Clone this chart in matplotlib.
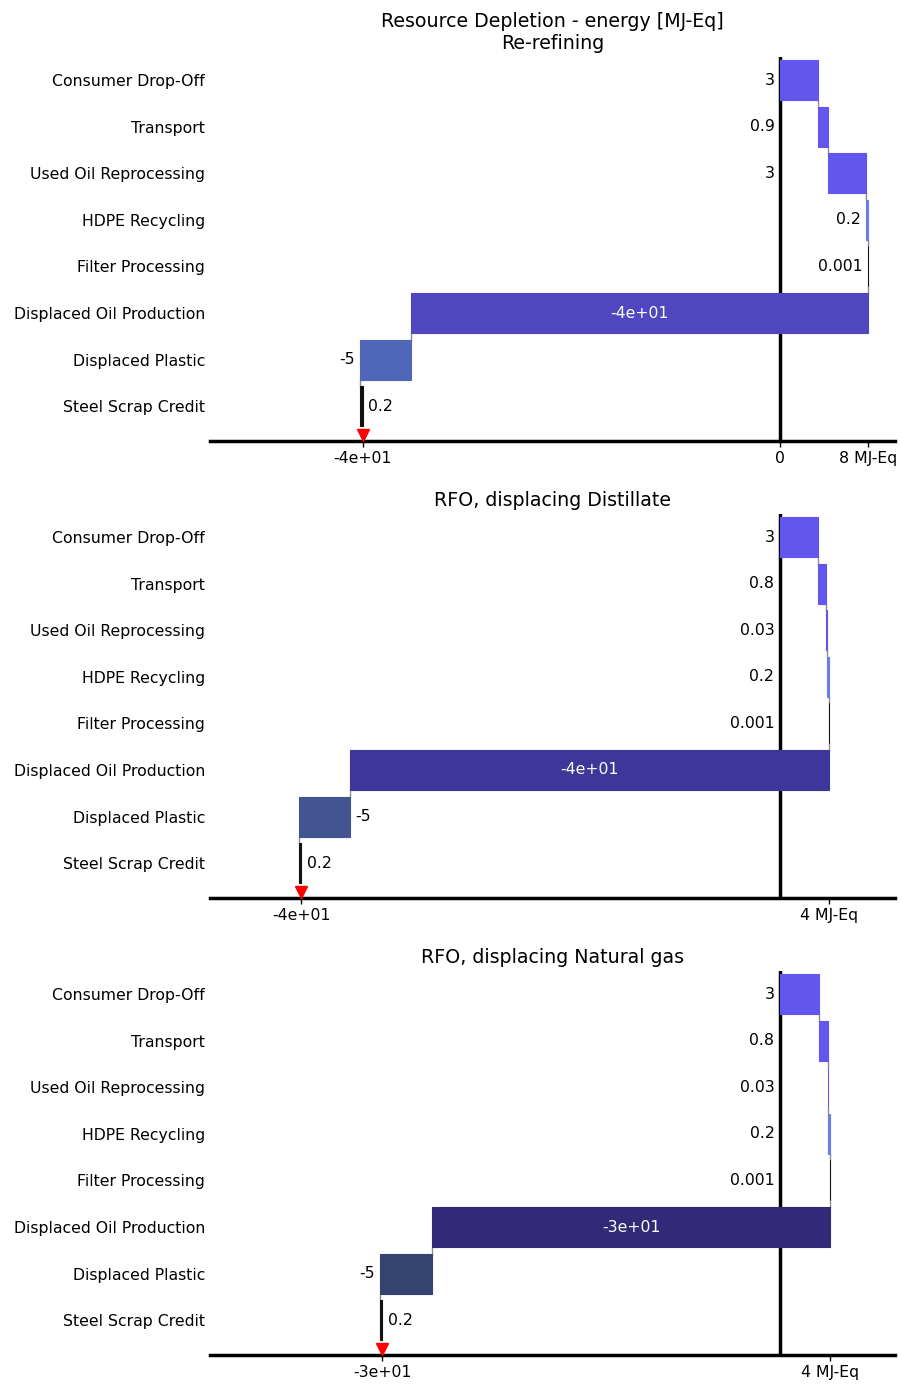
import numpy as np
import matplotlib
matplotlib.use("Agg")
from matplotlib import pyplot as plt

categories = ["Consumer Drop-Off", "Transport", "Used Oil Reprocessing", "HDPE Recycling",
              "Filter Processing", "Displaced Oil Production", "Displaced Plastic",
              "Steel Scrap Credit"]

# MJ-Eq per scenario, same order as categories
rerefining = [3.4, 0.94, 3.4, 0.2, 0.001, -41.1, -4.6, 0.2]
distillate = [3.4, 0.8, 0.03, 0.2, 0.001, -43.3, -4.6, 0.2]
natural_gas = [3.4, 0.8, 0.03, 0.2, 0.001, -34.96, -4.56, 0.2]

titles = ["Resource Depletion - energy [MJ-Eq]\nRe-refining",
          "RFO, displacing Distillate",
          "RFO, displacing Natural gas"]
unit = "MJ-Eq"

# colours
proc_color = "#6356ee"
hdpe_color = "#6a7ee8"
dark_color = "#111111"
oil_colors = ["#5046bf", "#3f3699", "#322a77"]
plastic_colors = ["#5067b9", "#435590", "#354370"]
xlims = [(-51.28, 10.35), (-51.5, 10.4), (-50.0, 10.09)]

FS = 11.35


def waterfall(ax, vals, title, xlim, oil_c, plastic_c):
    vals = np.array(vals)
    ends = np.cumsum(vals)
    starts = ends - vals
    y = np.arange(len(vals))
    cols = [proc_color, proc_color, proc_color, hdpe_color, dark_color,
            oil_c, plastic_c, dark_color]

    ax.axvline(0, color="black", lw=2.5, zorder=1)
    ax.barh(y, vals, left=starts, height=0.86, color=cols, edgecolor=cols,
            linewidth=0.8, zorder=2)

    # step connectors
    for i in range(len(vals) - 1):
        ax.plot([ends[i], ends[i]], [i + 0.43, i + 0.57], color="0.55", lw=1, zorder=1.5)

    total = ends[-1]
    pos = vals[:5].sum()
    ax.plot([total], [7.62], marker="v", color="red", ms=9, clip_on=False, zorder=5,
            linestyle="none")

    # value labels
    for i, v in enumerate(vals):
        txt = f"{v:.1g}"
        if v > 0 and starts[i] >= 0:
            anchor = starts[i] if starts[i] > 5 else 0
            ax.annotate(txt, (anchor, i), xytext=(-4, 0), textcoords="offset points",
                        ha="right", va="center", fontsize=FS)
        elif v > 0:
            ax.annotate(txt, (ends[i], i), xytext=(4, 0), textcoords="offset points",
                        ha="left", va="center", fontsize=FS)
        elif abs(v) > 20:
            ax.text((starts[i] + ends[i]) / 2, i, txt, ha="center", va="center",
                    color="white", fontsize=FS)
        elif ends[i] - xlim[0] > 10:
            ax.annotate(txt, (ends[i], i), xytext=(-4, 0), textcoords="offset points",
                        ha="right", va="center", fontsize=FS)
        else:
            ax.annotate(txt, (starts[i], i), xytext=(4, 0), textcoords="offset points",
                        ha="left", va="center", fontsize=FS)

    ax.set_xlim(xlim)
    ax.set_ylim(7.75, -0.5)
    ax.set_yticks(y)
    ax.set_yticklabels(categories, fontsize=FS)
    ax.tick_params(axis="y", length=0, pad=3.5)

    if pos > 5:
        ticks = [total, 0, pos]
        labels = [f"{total:.1g}", "0", f"{pos:.1g} {unit}"]
    else:
        ticks = [total, pos]
        labels = [f"{total:.1g}", f"{pos:.1g} {unit}"]
    ax.set_xticks(ticks)
    ax.set_xticklabels(labels, fontsize=FS)
    ax.tick_params(axis="x", length=4, width=1)

    for s in ["top", "right", "left"]:
        ax.spines[s].set_visible(False)
    ax.spines["bottom"].set_linewidth(2.5)
    ax.set_title(title, fontsize=13.7)


fig = plt.figure(figsize=(9.01, 13.85), dpi=100)
W, H = 901, 1385
bottoms = [441, 898, 1355]
height = 384
for k, vals in enumerate([rerefining, distillate, natural_gas]):
    ax = fig.add_axes([210 / W, 1 - bottoms[k] / H, 685 / W, height / H])
    waterfall(ax, vals, titles[k], xlims[k], oil_colors[k], plastic_colors[k])

fig.savefig("out.png", dpi=100)
